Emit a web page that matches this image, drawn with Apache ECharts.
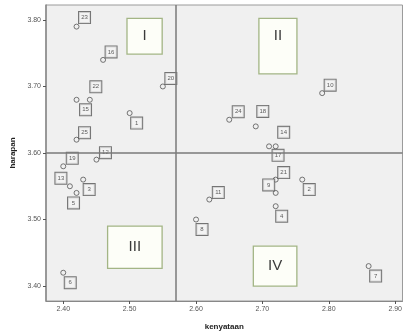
<!DOCTYPE html>
<html><head><meta charset="utf-8">
<script src="https://cdn.jsdelivr.net/npm/echarts@6/dist/echarts.min.js"></script>
<style>html,body{margin:0;padding:0;background:#fff}#c{width:405px;height:336px}</style>
</head><body><div id="c"></div>
<script>
// data
var ids        = ['23','16','20','15','22','1','25','12','19','13','3','5','6','10','24','18','14','17','21','9','2','11','4','8','7'];
var kenyataan  = [2.42,2.46,2.55,2.42,2.44,2.50,2.42,2.45,2.40,2.41,2.43,2.42,2.40,2.79,2.65,2.69,2.72,2.71,2.72,2.72,2.76,2.62,2.72,2.60,2.86];
var harapan    = [3.79,3.74,3.70,3.68,3.68,3.66,3.62,3.59,3.58,3.55,3.56,3.54,3.42,3.69,3.65,3.64,3.61,3.61,3.56,3.54,3.56,3.53,3.52,3.50,3.43];
var xTicks     = [2.40,2.50,2.60,2.70,2.80,2.90];
var yTicks     = [3.40,3.50,3.60,3.70,3.80];
var xRef = 2.57, yRef = 3.60;
var quadrantNames = ['I','II','III','IV'];

// label placement (style, keyed by id)
var labelOffset = {
  '23':[8,-9],'16':[8,-8],'20':[8,-8],'15':[9,10],'22':[6,-13],'1':[7,10],'25':[8,-7],
  '12':[9,-7],'19':[9,-8],'13':[-9,-8],'3':[6,10],'5':[-3,10],'6':[7,10],
  '10':[8,-8],'24':[9,-8],'18':[7,-15],'14':[8,-14],'17':[9,9],'21':[8,-7],'9':[-7,-8],
  '2':[7,10],'11':[9,-7],'4':[6,10],'8':[6,10],'7':[7,10]
};

var pts = ids.map(function(id,i){
  return {value:[kenyataan[i],harapan[i]], name:id,
    label:{offset:labelOffset[id]||[8,-8]}};
});

var boxStyle = {color:'#fdfef8', borderColor:'#a3b585', borderWidth:1.3, opacity:1};
var boxLabel = {show:true, fontSize:15, color:'#3a3a3a', fontFamily:'Liberation Sans', position:'inside'};
var quadBoxes = [
  [{xAxis:2.496,yAxis:3.8025,name:quadrantNames[0],label:boxLabel},{xAxis:2.549,yAxis:3.7485}],
  [{xAxis:2.6947,yAxis:3.8025,name:quadrantNames[1],label:Object.assign({},boxLabel,{position:'insideTop',distance:11})},{xAxis:2.752,yAxis:3.719}],
  [{xAxis:2.4668,yAxis:3.49,name:quadrantNames[2],label:boxLabel},{xAxis:2.5489,yAxis:3.4266}],
  [{xAxis:2.6863,yAxis:3.46,name:quadrantNames[3],label:boxLabel},{xAxis:2.7519,yAxis:3.40}]
];

var chart = echarts.init(document.getElementById('c'), null, {renderer:'canvas'});
chart.setOption({
  animation:false,
  textStyle:{fontFamily:'Liberation Sans'},
  grid:{left:46, top:5, right:2, bottom:34, show:true, backgroundColor:'#f0f0f0', borderColor:'#9a9a9a', borderWidth:1},
  xAxis:{type:'value', min:2.374, max:2.911,
    name:'kenyataan', nameLocation:'middle', nameGap:22,
    nameTextStyle:{fontSize:8, fontWeight:'bold', color:'#222'},
    axisLine:{show:true, onZero:false, lineStyle:{color:'#888'}},
    axisTick:{show:true, length:3, customValues:xTicks, lineStyle:{color:'#555'}},
    axisLabel:{customValues:xTicks, fontSize:7, color:'#555', margin:5, formatter:function(v){return v.toFixed(2);}},
    splitLine:{show:false}},
  yAxis:{type:'value', min:3.3775, max:3.8225,
    name:'harapan', nameLocation:'middle', nameGap:24, nameRotate:90,
    nameTextStyle:{fontSize:8, fontWeight:'bold', color:'#222'},
    axisLine:{show:true, onZero:false, lineStyle:{color:'#888', width:1.5}},
    axisTick:{show:true, length:3, customValues:yTicks, lineStyle:{color:'#555'}},
    axisLabel:{customValues:yTicks, fontSize:7, color:'#555', margin:5, formatter:function(v){return v.toFixed(2);}},
    splitLine:{show:false}},
  series:[{
    type:'scatter', data:pts, symbol:'circle', symbolSize:5,
    itemStyle:{color:'#f0f0f0', borderColor:'#555', borderWidth:1},
    label:{show:true, position:'inside', formatter:'{b}', fontSize:6, color:'#333',
      backgroundColor:'#f4f4f4', borderColor:'#555', borderWidth:1,
      width:9, height:9, align:'center', verticalAlign:'middle', lineHeight:9, padding:[1,1]},
    markLine:{silent:true, symbol:'none', label:{show:false},
      lineStyle:{color:'#7a7a7a', width:1.5, type:'solid'},
      data:[{xAxis:xRef},{yAxis:yRef}]},
    markArea:{silent:true, itemStyle:boxStyle, data:quadBoxes},
    z:3
  }]
});
</script></body></html>
